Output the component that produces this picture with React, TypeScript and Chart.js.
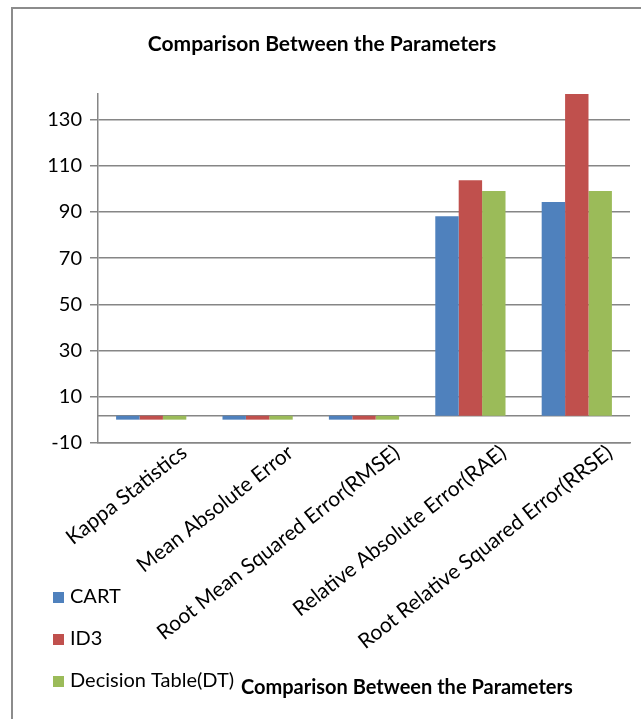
import React, { useEffect, useRef } from "react";
import { Chart, registerables } from "chart.js";

Chart.register(...registerables);

const CATEGORIES = [
  "Kappa Statistics",
  "Mean Absolute Error",
  "Root Mean Squared Error(RMSE)",
  "Relative Absolute Error(RAE)",
  "Root Relative Squared Error(RRSE)",
];
const SERIES_NAMES = ["CART", "ID3", "Decision Table(DT)"];
const CART = [0.1, 0.1, 0.1, 88.1, 94.3];
const ID3 = [0.1, 0.1, 0.1, 103.7, 141];
const DT = [0.1, 0.1, 0.1, 99.0, 99.0];
const COLORS = ["#4F81BD", "#C0504D", "#9BBB59"];
const Y_TICKS = [-10, 10, 30, 50, 70, 90, 110, 130];
const Y_MIN = -10;
const Y_MAX = 141;
const AXIS_CROSS = 1.8;
const TITLE = "Comparison Between the Parameters";
const AXIS_TITLE = "Comparison Between the Parameters";

const FONT = "Lato, 'Open Sans', sans-serif";
const GRID = "#868686";

const decorPlugin = {
  id: "decor",
  beforeDraw(chart: any) {
    const ctx = chart.ctx;
    ctx.save();
    ctx.fillStyle = "#ffffff";
    ctx.fillRect(0, 0, chart.width, chart.height);
    ctx.strokeStyle = "#8c8c8c";
    ctx.lineWidth = 2;
    ctx.beginPath();
    ctx.moveTo(12, chart.height);
    ctx.lineTo(12, 8);
    ctx.lineTo(chart.width, 8);
    ctx.stroke();
    ctx.restore();
  },
  beforeDatasetsDraw(chart: any) {
    const ctx = chart.ctx;
    const y = chart.scales.y.getPixelForValue(AXIS_CROSS);
    ctx.save();
    ctx.strokeStyle = GRID;
    ctx.lineWidth = 1.5;
    ctx.beginPath();
    ctx.moveTo(chart.chartArea.left, y);
    ctx.lineTo(chart.chartArea.right, y);
    ctx.stroke();
    ctx.restore();
  },
  afterDraw(chart: any) {
    const ctx = chart.ctx;
    ctx.save();
    ctx.fillStyle = "#000";
    ctx.textBaseline = "middle";
    ctx.textAlign = "center";
    ctx.font = `bold 21px ${FONT}`;
    ctx.fillText(TITLE, 322, 44);
    ctx.textAlign = "left";
    ctx.font = `bold 20px ${FONT}`;
    ctx.fillText(AXIS_TITLE, 241, 688);
    ctx.font = `20px ${FONT}`;
    chart.data.datasets.forEach((ds: any, i: number) => {
      const y = 597 + i * 42;
      ctx.fillStyle = ds.backgroundColor;
      ctx.fillRect(53, y - 5, 11, 11);
      ctx.fillStyle = "#000";
      ctx.fillText(ds.label, 70, y);
    });
    ctx.restore();
  },
};

export default function App() {
  const ref = useRef<HTMLCanvasElement>(null);
  useEffect(() => {
    const seriesValues = [CART, ID3, DT];
    const chart = new Chart(ref.current!, {
      type: "bar",
      data: {
        labels: CATEGORIES,
        datasets: SERIES_NAMES.map((name, i) => ({
          label: name,
          data: seriesValues[i],
          backgroundColor: COLORS[i],
          base: AXIS_CROSS,
          barPercentage: 1,
          categoryPercentage: 0.66,
        })),
      },
      options: {
        animation: false,
        responsive: false,
        devicePixelRatio: 1,
        layout: { padding: { top: 94, right: 11, left: 0, bottom: 0 } },
        plugins: { legend: { display: false }, title: { display: false }, tooltip: { enabled: false } },
        scales: {
          x: {
            grid: { display: false, drawTicks: false },
            border: { display: true, color: GRID, width: 1.5 },
            ticks: {
              autoSkip: false,
              minRotation: 38,
              maxRotation: 38,
              labelOffset: 33,
              padding: -3,
              color: "#000",
              font: { family: FONT, size: 21 },
            },
            afterFit(scale: any) {
              scale.height = 276;
            },
          },
          y: {
            min: Y_MIN,
            max: Y_MAX,
            afterBuildTicks(scale: any) {
              scale.ticks = Y_TICKS.map((v) => ({ value: v }));
            },
            grid: { color: GRID, lineWidth: 1.5, tickLength: 8, drawTicks: true },
            border: { display: true, color: GRID, width: 1.5 },
            ticks: {
              padding: 8,
              color: "#000",
              font: { family: FONT, size: 20 },
            },
            afterFit(scale: any) {
              scale.width = 98;
            },
          },
        },
      },
      plugins: [decorPlugin],
    });
    return () => chart.destroy();
  }, []);
  return (
    <div style={{ position: "fixed", left: 0, top: 0, width: 641, height: 719, background: "#fff" }}>
      <canvas ref={ref} width={641} height={719} style={{ display: "block", width: 641, height: 719 }} />
    </div>
  );
}
